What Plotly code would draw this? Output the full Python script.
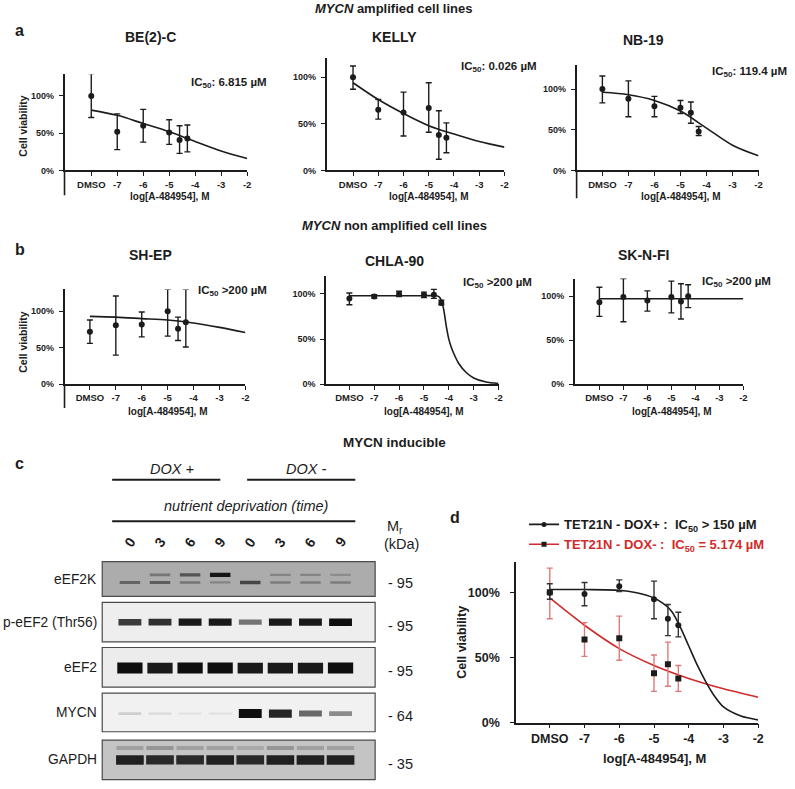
import plotly.graph_objects as go

FONT = "Liberation Sans, Arial, Helvetica, sans-serif"
INK = "#1c1c1c"
RED = "#d12b2b"
RED_ERR = "#e07a7a"
W, H = 795, 789


def px(x):
    return x / W


def py(y):
    return 1 - y / H


# ---------------- data ----------------
x_tickvals = [-8, -7, -6, -5, -4, -3, -2]
x_ticktext = ["DMSO", "-7", "-6", "-5", "-4", "-3", "-2"]
y_tickvals = [0, 50, 100]
y_ticktext = ["0%", "50%", "100%"]

dose_log = [-8, -7, -6, -5, -4.6, -4.3]  # DMSO shown at the -8 position

# panel a
be2c_mean = [100, 52, 60, 51, 41, 43]
be2c_hi = [130, 76, 82, 68, 60, 61]
be2c_lo = [71, 28, 38, 35, 23, 25]
be2c_fit_x = [-8, -7, -6, -5, -4, -3, -2]
be2c_fit_y = [81, 74, 63, 52, 39, 26, 16]

kelly_mean = [100, 65, 62, 67, 38, 35]
kelly_hi = [112, 76, 84, 94, 64, 51]
kelly_lo = [87, 55, 37, 41, 12, 19]
kelly_fit_x = [-8, -7, -6, -5, -4, -3, -2]
kelly_fit_y = [94, 76, 61, 48, 39, 31, 25]

nb19_mean = [100, 88, 79, 77, 71, 48]
nb19_hi = [116, 110, 91, 86, 84, 54]
nb19_lo = [83, 66, 66, 70, 58, 43]
nb19_fit_x = [-8, -7, -6, -5, -4, -3, -2]
nb19_fit_y = [96, 93, 86, 73, 52, 31, 18]

# panel b
shep_mean = [72, 81, 82, 100, 76, 85]
shep_hi = [88, 121, 99, 130, 92, 130]
shep_lo = [56, 40, 65, 66, 60, 51]
shep_fit_x = [-8, -7, -6, -5, -4, -3, -2]
shep_fit_y = [93, 92, 90, 88, 84, 78, 71]

chla90_mean = [95, 97, 100, 99, 99, 90]
chla90_hi = [101, 99, 103, 102, 105, 93]
chla90_lo = [88, 95, 97, 96, 95, 88]
chla90_fit_x = [-8, -7, -6, -5, -4.5, -4.4, -4.3, -4.2, -4.1, -4.0, -3.9, -3.8,
                -3.6, -3.3, -3.0, -2.5, -2.0]
chla90_fit_y = [98, 98, 98, 98, 98, 97, 93, 82, 64, 50, 41, 34, 23, 13, 7, 2.5, 0.8]

sknfi_mean = [93, 99, 95, 99, 94, 100]
sknfi_hi = [110, 120, 106, 117, 114, 113]
sknfi_lo = [77, 71, 83, 81, 74, 87]
sknfi_fit_x = [-8, -2]
sknfi_fit_y = [97, 97]

# panel d
dox_plus_mean = [100, 99, 105, 95, 80, 75]
dox_plus_hi = [107, 108, 110, 109, 91, 85]
dox_plus_lo = [95, 90, 101, 80, 67, 66]
dox_plus_fit_x = [-8, -7, -6, -5.5, -5, -4.75, -4.5, -4.25, -4, -3.75, -3.5, -3.25, -3, -2.5, -2]
dox_plus_fit_y = [102.5, 102.5, 102, 100, 96, 92, 86, 74, 59, 44, 31, 20, 12, 5, 2]

dox_minus_mean = [100.5, 64, 65, 38, 45, 34]
dox_minus_hi = [119, 77, 82, 52, 62, 44]
dox_minus_lo = [80, 51, 48, 24, 28, 24]
dox_minus_fit_x = [-8, -7, -6, -5, -4, -3, -2]
dox_minus_fit_y = [96, 75, 57, 44, 34, 26, 19.5]

# panel c (western blot band intensities, 0 = none, 1 = saturated)
blot_lanes = [1, 2, 3, 4, 5, 6, 7, 8]
lane_labels = ["0", "3", "6", "9", "0", "3", "6", "9"]
blot_names = ["eEF2K", "p-eEF2 (Thr56)", "eEF2", "MYCN", "GAPDH"]
blot_mr = ["95", "95", "95", "64", "35"]
eef2k_upper = [0.0, 0.35, 0.55, 0.95, 0.0, 0.25, 0.25, 0.2]
eef2k_lower = [0.45, 0.5, 0.35, 0.25, 0.65, 0.3, 0.3, 0.3]
p_eef2_band = [0.8, 0.85, 0.95, 0.95, 0.55, 0.95, 0.95, 1.0]
eef2_band = [1.0, 0.95, 1.0, 1.0, 0.95, 0.95, 0.95, 1.0]
mycn_band = [0.15, 0.1, 0.07, 0.07, 1.0, 0.9, 0.6, 0.45]
gapdh_band = [0.9, 0.85, 0.85, 0.9, 0.85, 0.9, 0.9, 0.9]
gapdh_smear = [0.2, 0.25, 0.2, 0.2, 0.15, 0.25, 0.2, 0.2]

# ---------------- figure ----------------
fig = go.Figure()
layout = {}
shapes = []
annotations = []


def names(n):
    s = "" if n == 1 else str(n)
    return "xaxis" + s, "yaxis" + s, "x" + s, "y" + s


def text(x, y, t, size, bold=True, xanchor="center", yanchor="middle", color=INK,
         angle=0, xref="paper", italic=False):
    annotations.append(dict(
        x=x, y=y, xref=xref, yref="paper", text=t, showarrow=False,
        xanchor=xanchor, yanchor=yanchor, textangle=angle,
        font=dict(family=FONT, size=size, color=color,
                  weight="bold" if bold else "normal",
                  style="italic" if italic else "normal")))


def curve_axes(n, xd, yd, xr, ytop, ext, tfx, tfy, ystandoff):
    xa, ya, xs, ys = names(n)
    layout[xa] = dict(domain=[px(xd[0]), px(xd[1])], range=list(xr), anchor=ys,
                      showline=True, linecolor=INK, linewidth=1.6, ticks="outside",
                      ticklen=4, tickwidth=1.4, tickcolor=INK,
                      tickvals=x_tickvals, ticktext=x_ticktext,
                      tickfont=dict(family=FONT, size=tfx, color=INK, weight="bold"),
                      showgrid=False, zeroline=False, fixedrange=True)
    layout[ya] = dict(domain=[py(yd[1]), py(yd[0])], range=[0, ytop], anchor=xs,
                      showline=True, linecolor=INK, linewidth=1.6, ticks="outside",
                      ticklen=4, tickwidth=1.4, tickcolor=INK,
                      tickvals=y_tickvals, ticktext=y_ticktext,
                      ticklabelstandoff=ystandoff,
                      tickfont=dict(family=FONT, size=tfy, color=INK, weight="bold"),
                      showgrid=False, zeroline=False, fixedrange=True)
    if ext > 0:
        shapes.append(dict(type="line", xref=xs + " domain", yref=ys + " domain",
                           x0=0, x1=0, y0=-ext / (yd[1] - yd[0]), y1=0,
                           line=dict(color=INK, width=1.6)))
    return xs, ys


def add_series(xs, ys, mean, hi, lo, fx, fy, color=INK, err_color=INK,
               symbol="circle", size=6, smooth=0.8):
    fig.add_trace(go.Scatter(x=fx, y=fy, xaxis=xs, yaxis=ys, mode="lines",
                             line=dict(color=color, width=1.6, shape="spline",
                                       smoothing=smooth),
                             showlegend=False, hoverinfo="skip"))
    fig.add_trace(go.Scatter(
        x=dose_log, y=mean, xaxis=xs, yaxis=ys, mode="markers",
        marker=dict(color=INK, size=size, symbol=symbol),
        error_y=dict(type="data", symmetric=False,
                     array=[h - m for h, m in zip(hi, mean)],
                     arrayminus=[m - l for m, l in zip(mean, lo)],
                     color=err_color, thickness=1.4, width=3),
        showlegend=False, hoverinfo="skip"))


small_panels = [
    dict(title="BE(2)-C", d=(be2c_mean, be2c_hi, be2c_lo, be2c_fit_x, be2c_fit_y),
         ic="IC<sub>50</sub>: 6.815 µM", xd=(65, 249), yd=(75, 172), xr=(-9.03, -2),
         ytop=129, ext=25, t=(152, 37), icxy=(190, 84), xt=198, yt=(23, 127)),
    dict(title="KELLY", d=(kelly_mean, kelly_hi, kelly_lo, kelly_fit_x, kelly_fit_y),
         ic="IC<sub>50</sub>: 0.026 µM", xd=(329, 508.3), yd=(59, 172), xr=(-9.05, -2),
         ytop=120, ext=0, t=(397, 37), icxy=(462, 68), xt=198, yt=None),
    dict(title="NB-19", d=(nb19_mean, nb19_hi, nb19_lo, nb19_fit_x, nb19_fit_y),
         ic="IC<sub>50</sub>: 119.4 µM", xd=(581, 764.3), yd=(66, 172), xr=(-8.99, -2),
         ytop=129, ext=28, t=(648, 40), icxy=(715, 73), xt=198, yt=None),
    dict(title="SH-EP", d=(shep_mean, shep_hi, shep_lo, shep_fit_x, shep_fit_y),
         ic="IC<sub>50</sub> >200 µM", xd=(65, 247.3), yd=(292, 387.7), xr=(-8.98, -2),
         ytop=130, ext=24, t=(152, 257), icxy=(197, 294), xt=415, yt=(23, 345)),
    dict(title="CHLA-90", d=(chla90_mean, chla90_hi, chla90_lo, chla90_fit_x, chla90_fit_y),
         ic="IC<sub>50</sub> >200 µM", xd=(328.5, 502.3), yd=(278.3, 387.7), xr=(-8.94, -2),
         ytop=120, ext=0, t=(398, 263), icxy=(465, 286), xt=415, yt=None),
    dict(title="SK-N-FI", d=(sknfi_mean, sknfi_hi, sknfi_lo, sknfi_fit_x, sknfi_fit_y),
         ic="IC<sub>50</sub> >200 µM", xd=(579.3, 749), yd=(281, 387.7), xr=(-9.02, -2),
         ytop=120, ext=0, t=(648, 257), icxy=(705, 285), xt=415, yt=None),
]

for i, p in enumerate(small_panels, start=1):
    xs, ys = curve_axes(i, p["xd"], p["yd"], p["xr"], p["ytop"], p["ext"], 9.5, 9, 3)
    mean, hi, lo, fx, fy = p["d"]
    add_series(xs, ys, mean, hi, lo, fx, fy, smooth=0.6 if p["title"] == "CHLA-90" else 0.9)
    text(px(p["t"][0]), py(p["t"][1]), "<b>" + p["title"] + "</b>", 14)
    text(px(p["icxy"][0]), py(p["icxy"][1]), p["ic"], 11.5, xanchor="left")
    text(-5, py(p["xt"]), "log[A-484954], M", 10, xref=xs)
    if p["yt"]:
        text(px(p["yt"][0]), py(p["yt"][1]), "Cell viability", 10.5, angle=-90)

# panel d
xs7, ys7 = curve_axes(7, (520, 764), (566.7, 729), (-8.97, -2), 124, 0, 12.5, 12.5, 8)
add_series(xs7, ys7, dox_minus_mean, dox_minus_hi, dox_minus_lo, dox_minus_fit_x,
           dox_minus_fit_y, color=RED, err_color=RED_ERR, symbol="square", size=6)
add_series(xs7, ys7, dox_plus_mean, dox_plus_hi, dox_plus_lo, dox_plus_fit_x,
           dox_plus_fit_y, color=INK, err_color="#333333", symbol="circle", size=6)
text(-5, py(765), "log[A-484954], M", 13, xref=xs7)
text(px(466), py(648), "Cell viability", 12.5, angle=-90)

fig.add_trace(go.Scatter(x=[None], y=[None], xaxis=xs7, yaxis=ys7, mode="lines+markers",
                         line=dict(color=INK, width=1.6),
                         marker=dict(color=INK, size=5, symbol="circle"),
                         name="TET21N - DOX+ :  IC<sub>50</sub> > 150 µM"))
fig.add_trace(go.Scatter(x=[None], y=[None], xaxis=xs7, yaxis=ys7, mode="lines+markers",
                         line=dict(color=RED, width=1.6),
                         marker=dict(color=INK, size=5, symbol="square"),
                         name="<span style='color:" + RED + "'>TET21N - DOX- :  IC<sub>50</sub> = 5.174 µM</span>"))

# panel c: western blot strips
strip_y = [(566.7, 601.7), (607.7, 647.7), (653.3, 693.3), (699.3, 738.3), (746.7, 786.7)]
blot_style = [
    dict(bg=172, rows=[(eef2k_upper, 0.62, 1.5, 3.0, 0.34), (eef2k_lower, 0.40, 1.5, 3.0, 0.34)]),
    dict(bg=238, rows=[(p_eef2_band, 0.50, 2.5, 5.0, 0.38)]),
    dict(bg=236, rows=[(eef2_band, 0.48, 5.0, 6.0, 0.42)]),
    dict(bg=241, rows=[(mycn_band, 0.47, 1.5, 7.5, 0.38)]),
    dict(bg=196, rows=[(gapdh_smear, 0.80, 4.0, 0.0, 0.45), (gapdh_band, 0.50, 5.0, 5.0, 0.46)]),
]

for k, (st, (yt, yb)) in enumerate(zip(blot_style, strip_y)):
    n = 8 + k
    xa, ya, xs, ys = names(n)
    layout[xa] = dict(domain=[px(103), px(378)], range=[0.08, 9.15], anchor=ys,
                      visible=False, fixedrange=True)
    layout[ya] = dict(domain=[py(yb), py(yt)], range=[0, 1], anchor=xs,
                      visible=False, fixedrange=True)
    bg = st["bg"]
    shapes.append(dict(type="rect", xref=xs + " domain", yref=ys + " domain",
                       x0=0, x1=1, y0=0, y1=1, layer="below",
                       fillcolor="rgb(%d,%d,%d)" % (bg, bg, bg),
                       line=dict(color="#4a4a4a", width=1.2)))
    for vals, yy, th0, thk, hw in st["rows"]:
        for lane, v in zip(blot_lanes, vals):
            if v <= 0:
                continue
            g = int(round(bg - (bg - 14) * v))
            fig.add_trace(go.Scatter(
                x=[lane - hw, lane + hw], y=[yy, yy], xaxis=xs, yaxis=ys, mode="lines",
                line=dict(color="rgb(%d,%d,%d)" % (g, g, g), width=th0 + thk * v),
                showlegend=False, hoverinfo="skip"))
    yc = (yt + yb) / 2
    text(px(100), py(yc), blot_names[k], 13.8, bold=False, xanchor="right")
    text(px(389), py(yc + 4), "- " + blot_mr[k], 14.5, bold=False, xanchor="left")

for lane, lab in zip(blot_lanes, lane_labels):
    text(lane, py(547), lab, 14, angle=-55, xref="x8")

# blot header
text(px(173), py(473), "DOX +", 14.5, bold=False, italic=True)
text(px(308), py(473), "DOX -", 14.5, bold=False, italic=True)
text(px(248), py(511), "nutrient deprivation (time)", 14.5, bold=False, italic=True)
text(px(398), py(532), "M<sub>r</sub>", 14.5, bold=False)
text(px(405), py(549), "(kDa)", 14.5, bold=False)
for x0, x1, yy in [(113, 222, 484), (249, 358, 484), (113, 358, 526)]:
    shapes.append(dict(type="line", xref="paper", yref="paper", x0=px(x0), x1=px(x1),
                       y0=py(yy), y1=py(yy), line=dict(color=INK, width=2)))

# section titles and panel letters
text(px(397), py(9), "<i>MYCN</i> amplified cell lines", 13)
text(px(397), py(228), "<i>MYCN</i> non amplified cell lines", 13)
text(px(397), py(446), "MYCN inducible", 13.5)
text(px(20), py(31), "a", 16)
text(px(20), py(252), "b", 16)
text(px(20), py(468), "c", 16)
text(px(458), py(522), "d", 16)

fig.update_layout(
    width=W, height=H, margin=dict(l=0, r=0, t=0, b=0),
    paper_bgcolor="white", plot_bgcolor="rgba(0,0,0,0)",
    font=dict(family=FONT, color=INK),
    showlegend=True,
    legend=dict(x=px(528), y=py(514), xanchor="left", yanchor="top",
                bgcolor="rgba(0,0,0,0)", itemwidth=30, tracegroupgap=0,
                font=dict(family=FONT, size=13, color=INK, weight="bold")),
    shapes=shapes, annotations=annotations,
    **layout,
)

fig.write_html(
    "out.html",
    config={"displayModeBar": False},
    post_script="document.body.style.margin='0';document.body.style.padding='0';"
                "document.documentElement.style.overflow='hidden';",
)
